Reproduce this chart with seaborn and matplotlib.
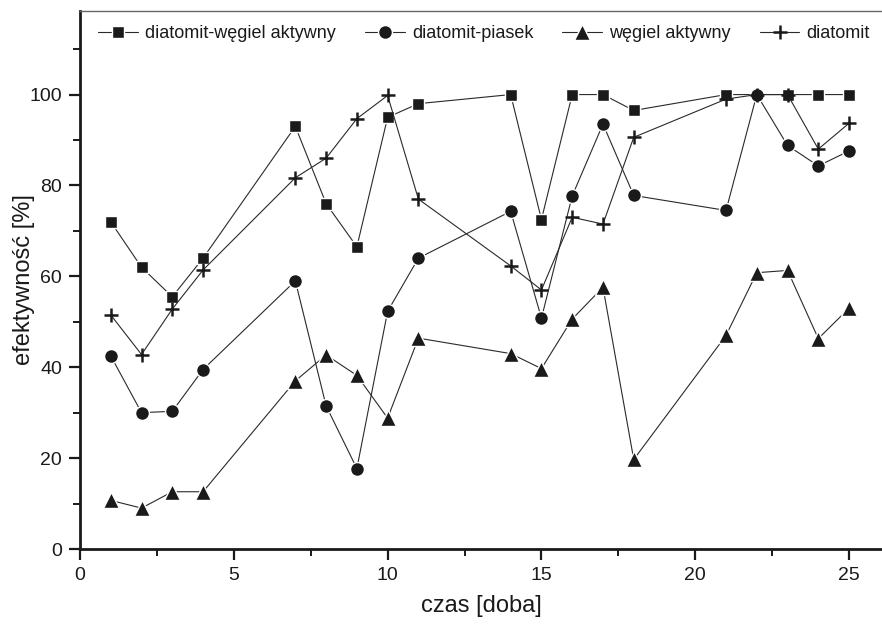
import matplotlib
matplotlib.use("Agg")
import matplotlib.pyplot as plt
import seaborn as sns
import pandas as pd
from matplotlib.ticker import MultipleLocator

days = [1, 2, 3, 4, 7, 8, 9, 10, 11, 14, 15, 16, 17, 18, 21, 22, 23, 24, 25]
diatomit_wegiel = [72, 62, 55.5, 64, 93, 76, 66.5, 95, 98, 100, 72.5, 100, 100, 96.5, 100, 100, 100, 100, 100]
diatomit_piasek = [42.5, 30, 30.3, 39.5, 59, 31.5, 17.7, 52.3, 64, 74.3, 50.8, 77.7, 93.5, 77.8, 74.5, 100, 88.8, 84.3, 87.6]
wegiel = [10.7, 9, 12.6, 12.6, 37, 42.7, 38.2, 28.8, 46.4, 43, 39.7, 50.6, 57.6, 19.7, 47, 60.8, 61.3, 46.3, 53]
diatomit = [51.5, 42.8, 52.8, 61.4, 81.7, 86, 94.7, 99.8, 77, 62.3, 57, 73, 71.5, 90.6, 99, 100, 100, 88, 93.7]

series_names = ["diatomit-węgiel aktywny", "diatomit-piasek", "węgiel aktywny", "diatomit"]
series_values = [diatomit_wegiel, diatomit_piasek, wegiel, diatomit]
x_label = "czas [doba]"
y_label = "efektywność [%]"

sns.set_theme(style="ticks")
plt.rcParams["font.family"] = ["Liberation Sans", "DejaVu Sans"]

fig = plt.figure(figsize=(8.82, 6.33), dpi=100)
ax = fig.add_axes([80 / 882, 84 / 633, 802 / 882, 538.5 / 633])

styles = [
    dict(marker="s", markersize=8.5, markeredgecolor="white", markeredgewidth=1.0),
    dict(marker="o", markersize=10, markeredgecolor="white", markeredgewidth=1.0),
    dict(marker="^", markersize=11, markeredgecolor="white", markeredgewidth=1.0),
    dict(marker="+", markersize=9.5, markeredgewidth=1.8, markeredgecolor="#1a1a1a"),
]

for name, vals, st in zip(series_names, series_values, styles):
    df = pd.DataFrame({"czas": days, "val": vals})
    sns.lineplot(data=df, x="czas", y="val", ax=ax, color="#2a2a2a",
                 linewidth=0.8, markerfacecolor="#1a1a1a", label=name, **st)

ax.set_xlim(0, 26.07)
ax.set_ylim(0, 118.5)
ax.xaxis.set_major_locator(MultipleLocator(5))
ax.xaxis.set_minor_locator(MultipleLocator(2.5))
ax.yaxis.set_major_locator(MultipleLocator(20))
ax.yaxis.set_minor_locator(MultipleLocator(10))
ax.tick_params(which="major", direction="out", length=8, width=1.6, color="#1a1a1a",
               labelsize=14, labelcolor="#1a1a1a", pad=5)
ax.tick_params(which="minor", direction="out", length=5, width=1.4, color="#1a1a1a")
ax.tick_params(axis="x", which="both", top=False)
ax.tick_params(axis="y", which="both", right=False)

for s in ["left", "bottom"]:
    ax.spines[s].set_linewidth(2.0)
    ax.spines[s].set_color("#1a1a1a")
ax.spines["top"].set_linewidth(1.0)
ax.spines["top"].set_color("#666666")
ax.spines["right"].set_visible(False)

ax.set_xlabel(x_label, fontsize=17, color="#1a1a1a", labelpad=8)
ax.set_ylabel(y_label, fontsize=17, color="#1a1a1a")
ax.yaxis.set_label_coords(-0.056, 0.5)

leg = ax.legend(loc="upper left", bbox_to_anchor=(0.005, 1.0), ncol=4, frameon=False,
                fontsize=13, handlelength=2.2, handletextpad=0.4, columnspacing=1.6,
                borderaxespad=0.4)
for t in leg.get_texts():
    t.set_color("#1a1a1a")

fig.savefig("out.png", dpi=100, facecolor="white")
